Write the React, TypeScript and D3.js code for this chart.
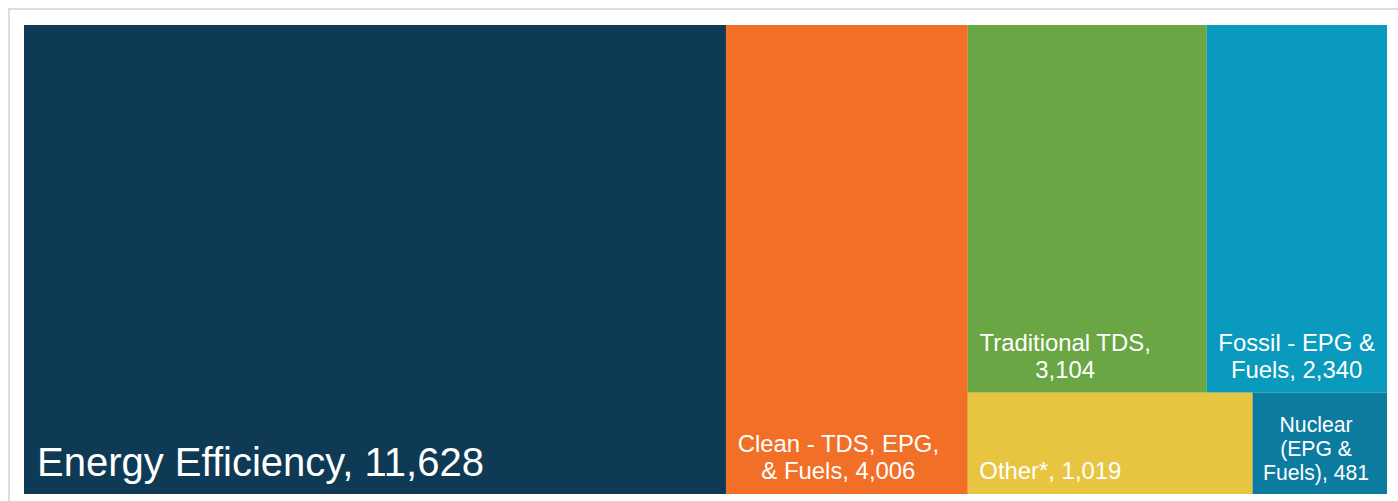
import React, { useMemo } from "react";
import * as d3 from "d3";

// ---- data ----
const categories = [
  "Energy Efficiency",
  "Clean - TDS, EPG, & Fuels",
  "Traditional TDS",
  "Fossil - EPG & Fuels",
  "Other*",
  "Nuclear (EPG & Fuels)",
];
const values = [11628, 4006, 3104, 2340, 1019, 481];

// how the cells nest for the slice/dice tiling (indices into categories)
const groups: any[] = [0, 1, [[2, 3], [4, 5]]];

// ---- styles ----
const colors = ["#0e3a55", "#f26f28", "#6aa644", "#0a9abd", "#e8c540", "#0b7ba0"];
const labelSizes = [40, 23.9, 23.9, 23.9, 23.9, 21.2];
const labelPads = [13, 11.5, 11.5, 11.5, 11.5, 10.5];
const FONT = "'Liberation Sans', Arial, Helvetica, sans-serif";

const W = 1363;
const H = 469;
const LEFT = 24;
const TOP = 25;

function toNode(g: any): any {
  if (Array.isArray(g)) return { children: g.map(toNode) };
  return { idx: g, name: categories[g], value: values[g] };
}

let ctx: CanvasRenderingContext2D | null = null;
function measure(text: string, size: number) {
  if (!ctx) ctx = document.createElement("canvas").getContext("2d");
  if (!ctx) return text.length * size * 0.5;
  ctx.font = `${size}px ${FONT}`;
  return ctx.measureText(text).width;
}

// greedy word wrap
function wrap(text: string, size: number, maxW: number) {
  const words = text.split(" ");
  const lines: string[] = [];
  let cur = "";
  words.forEach((w) => {
    const test = cur ? cur + " " + w : w;
    if (cur && measure(test, size) > maxW) {
      lines.push(cur);
      cur = w;
    } else cur = test;
  });
  if (cur) lines.push(cur);
  return lines;
}

export default function App() {
  const leaves = useMemo(() => {
    const root = d3
      .hierarchy(toNode(groups))
      .sum((d: any) => (d.children ? 0 : d.value));
    d3.treemap().tile(d3.treemapSliceDice).size([W, H]).paddingInner(0)(root);
    return root.leaves() as any[];
  }, []);

  const fmt = d3.format(",");

  return (
    <div style={{ position: "absolute", left: 0, top: 0 }}>
      <svg width={1398} height={501} style={{ display: "block" }}>
        <rect x={9} y={9} width={1500} height={600} fill="#fff" stroke="#dcdcdc" strokeWidth={2} />
        <g transform={`translate(${LEFT},${TOP})`}>
          {leaves.map((d) => {
            const i = d.data.idx;
            const size = labelSizes[i];
            const pad = labelPads[i];
            const w = d.x1 - d.x0;
            const lines = wrap(`${d.data.name}, ${fmt(d.data.value)}`, size, w - 2 * pad);
            const blockW = d3.max(lines, (l) => measure(l, size)) || 0;
            const lh = size * 1.13;
            const off = 10 + size * 0.2;
            const cx = d.x0 + pad + blockW / 2;
            return (
              <g key={i}>
                <rect
                  x={d.x0}
                  y={d.y0}
                  width={w}
                  height={d.y1 - d.y0}
                  fill={colors[i]}
                />
                <text
                  fill="#fff"
                  fontFamily={FONT}
                  fontSize={size}
                  textAnchor="middle"
                >
                  {lines.map((l, k) => (
                    <tspan key={k} x={cx} y={d.y1 - off - (lines.length - 1 - k) * lh}>
                      {l}
                    </tspan>
                  ))}
                </text>
              </g>
            );
          })}
        </g>
      </svg>
    </div>
  );
}
